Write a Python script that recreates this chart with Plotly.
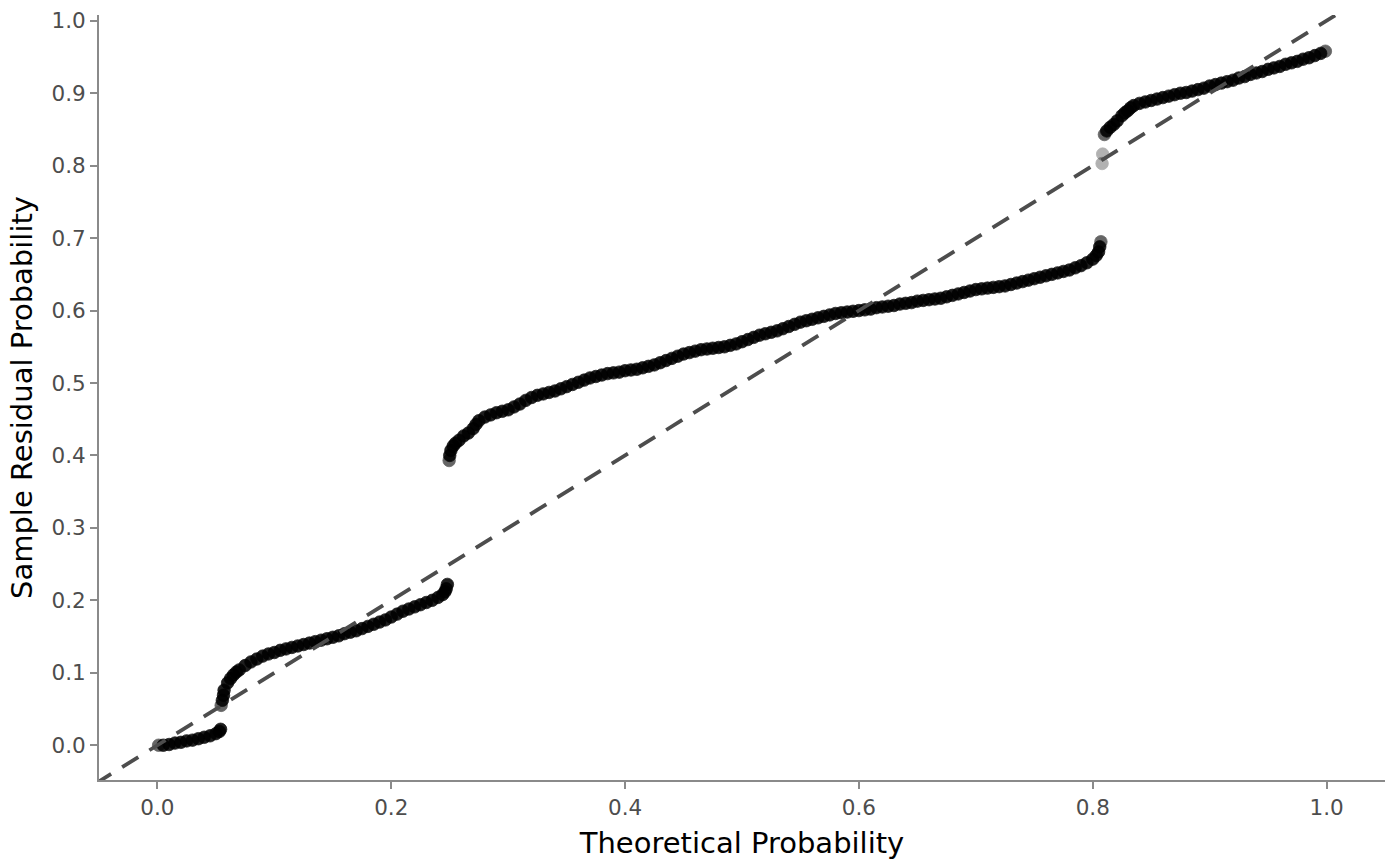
import numpy as np
import plotly.graph_objects as go

# ---- data (theoretical vs sample residual probability) ----
seg1_x = [0.001, 0.005, 0.010, 0.015, 0.020, 0.025, 0.030, 0.035, 0.040, 0.045, 0.050, 0.053, 0.054]
seg1_y = [0.000, 0.000, 0.001, 0.003, 0.004, 0.006, 0.007, 0.009, 0.011, 0.013, 0.016, 0.019, 0.022]

seg2_x = [0.0545, 0.0555, 0.0565, 0.057, 0.060, 0.0625, 0.065, 0.0675, 0.070, 0.075, 0.080, 0.085,
          0.090, 0.095, 0.100, 0.105, 0.110, 0.115, 0.120, 0.125, 0.130, 0.135, 0.140, 0.145,
          0.150, 0.155, 0.160, 0.165, 0.170, 0.175, 0.180, 0.185, 0.190, 0.195, 0.200, 0.205,
          0.210, 0.215, 0.220, 0.225, 0.230, 0.235, 0.240, 0.244, 0.246, 0.247, 0.248]
seg2_y = [0.055, 0.062, 0.069, 0.076, 0.086, 0.092, 0.097, 0.101, 0.104, 0.110, 0.115, 0.119,
          0.123, 0.126, 0.128, 0.131, 0.133, 0.135, 0.137, 0.139, 0.141, 0.143, 0.145, 0.147,
          0.149, 0.151, 0.154, 0.156, 0.158, 0.161, 0.164, 0.167, 0.170, 0.173, 0.177, 0.181,
          0.185, 0.188, 0.191, 0.194, 0.197, 0.200, 0.204, 0.208, 0.212, 0.216, 0.222]

seg3_x = [0.2495, 0.250, 0.251, 0.253, 0.255, 0.258, 0.262, 0.266, 0.270, 0.2725, 0.275, 0.280,
          0.285, 0.290, 0.295, 0.300, 0.305, 0.310, 0.315, 0.320, 0.325, 0.330, 0.335, 0.340,
          0.345, 0.350, 0.355, 0.360, 0.365, 0.370, 0.375, 0.380, 0.385, 0.390, 0.395, 0.400,
          0.405, 0.410, 0.415, 0.420, 0.425, 0.430, 0.435, 0.440, 0.445, 0.450, 0.455, 0.460,
          0.465, 0.470, 0.475, 0.480, 0.485, 0.490, 0.495, 0.500, 0.505, 0.510, 0.515, 0.520,
          0.525, 0.530, 0.535, 0.540, 0.545, 0.550, 0.555, 0.560, 0.565, 0.570, 0.575, 0.580,
          0.585, 0.590, 0.595, 0.600, 0.605, 0.610, 0.615, 0.620, 0.625, 0.630, 0.635, 0.640,
          0.645, 0.650, 0.655, 0.660, 0.665, 0.670, 0.675, 0.680, 0.685, 0.690, 0.695, 0.700,
          0.705, 0.710, 0.715, 0.720, 0.725, 0.730, 0.735, 0.740, 0.745, 0.750, 0.755, 0.760,
          0.765, 0.770, 0.775, 0.780, 0.785, 0.790, 0.795, 0.800, 0.803, 0.805, 0.806, 0.807]
seg3_y = [0.393, 0.400, 0.407, 0.413, 0.417, 0.421, 0.427, 0.431, 0.437, 0.443, 0.448, 0.453,
          0.456, 0.459, 0.461, 0.463, 0.467, 0.471, 0.476, 0.480, 0.483, 0.485, 0.487, 0.489,
          0.492, 0.495, 0.498, 0.501, 0.504, 0.507, 0.509, 0.511, 0.513, 0.514, 0.515, 0.517,
          0.518, 0.519, 0.521, 0.523, 0.525, 0.528, 0.531, 0.534, 0.537, 0.540, 0.542, 0.544,
          0.546, 0.547, 0.548, 0.549, 0.550, 0.552, 0.554, 0.557, 0.560, 0.563, 0.566, 0.568,
          0.570, 0.572, 0.575, 0.578, 0.581, 0.584, 0.586, 0.588, 0.590, 0.592, 0.594, 0.596,
          0.597, 0.598, 0.599, 0.600, 0.601, 0.602, 0.604, 0.605, 0.606, 0.607, 0.609, 0.610,
          0.611, 0.613, 0.614, 0.615, 0.616, 0.617, 0.619, 0.621, 0.623, 0.625, 0.627, 0.629,
          0.630, 0.631, 0.632, 0.633, 0.634, 0.636, 0.638, 0.640, 0.642, 0.644, 0.646, 0.648,
          0.650, 0.652, 0.654, 0.656, 0.659, 0.662, 0.666, 0.671, 0.676, 0.681, 0.688, 0.695]

gap_x = [0.808, 0.8085]
gap_y = [0.803, 0.816]

seg4_x = [0.810, 0.812, 0.815, 0.818, 0.821, 0.825, 0.8275, 0.830, 0.8325, 0.835, 0.840, 0.845,
          0.850, 0.855, 0.860, 0.865, 0.870, 0.875, 0.880, 0.885, 0.890, 0.895, 0.900, 0.905,
          0.910, 0.915, 0.920, 0.925, 0.930, 0.935, 0.940, 0.945, 0.950, 0.955, 0.960, 0.965,
          0.970, 0.975, 0.980, 0.985, 0.990, 0.995, 0.999]
seg4_y = [0.843, 0.848, 0.853, 0.857, 0.862, 0.869, 0.873, 0.876, 0.880, 0.883, 0.886, 0.888,
          0.890, 0.892, 0.894, 0.896, 0.898, 0.900, 0.901, 0.903, 0.905, 0.907, 0.910, 0.912,
          0.914, 0.916, 0.918, 0.921, 0.923, 0.926, 0.928, 0.930, 0.933, 0.935, 0.937, 0.940,
          0.942, 0.944, 0.947, 0.949, 0.952, 0.955, 0.958]

ref_line = [-0.1, 1.1]

x_ticks = [0.0, 0.2, 0.4, 0.6, 0.8, 1.0]
y_ticks = [0.0, 0.1, 0.2, 0.3, 0.4, 0.5, 0.6, 0.7, 0.8, 0.9, 1.0]

# ---- assemble ----
xs = np.array(seg1_x + seg2_x + seg3_x + gap_x + seg4_x)
ys = np.array(seg1_y + seg2_y + seg3_y + gap_y + seg4_y)

# per-point opacity from local density in screen space (emulates alpha stacking)
px, py = xs * 1170.0, ys * 726.0
d = np.sqrt((px[:, None] - px[None, :]) ** 2 + (py[:, None] - py[None, :]) ** 2)
k = (d < 8.5).sum(axis=1) - 1
alpha = np.clip(0.3 + 0.3 * k, 0.3, 0.88)

fig = go.Figure()
fig.add_trace(go.Scatter(
    x=xs, y=ys, mode="markers",
    marker=dict(size=12.5, color="black", opacity=alpha,
                line=dict(width=0.8, color="black")),
    hoverinfo="x+y", showlegend=False,
))
fig.add_trace(go.Scatter(
    x=ref_line, y=ref_line, mode="lines",
    line=dict(color="#4d4d4d", width=3.8, dash="19px,13px"),
    hoverinfo="skip", showlegend=False,
))

axis_common = dict(
    showgrid=False, zeroline=False, showline=True, linecolor="#8a8a8a", linewidth=2,
    ticks="outside", ticklen=7, tickwidth=2, tickcolor="#8a8a8a",
    tickfont=dict(family="DejaVu Sans", size=21.5, color="#4d4d4d"),
    mirror=False,
)
fig.update_xaxes(
    range=[-0.05, 1.05], tickvals=x_ticks, ticktext=[f"{v:.1f}" for v in x_ticks],
    title=dict(text="Theoretical Probability", font=dict(family="DejaVu Sans", size=29, color="black"),
               standoff=14),
    **axis_common,
)
fig.update_yaxes(
    range=[-0.048, 1.008], tickvals=y_ticks, ticktext=[f"{v:.1f}" for v in y_ticks],
    title=dict(text="Sample Residual Probability", font=dict(family="DejaVu Sans", size=29, color="black"),
               standoff=10),
    **axis_common,
)
fig.update_layout(
    width=1400, height=865,
    margin=dict(l=99, r=15, t=15, b=85, autoexpand=False),
    plot_bgcolor="white", paper_bgcolor="white",
    font=dict(family="DejaVu Sans"),
)
fig.write_html("out.html", config={"displayModeBar": False},
               post_script="document.body.style.margin='0';document.body.style.overflow='hidden';")
